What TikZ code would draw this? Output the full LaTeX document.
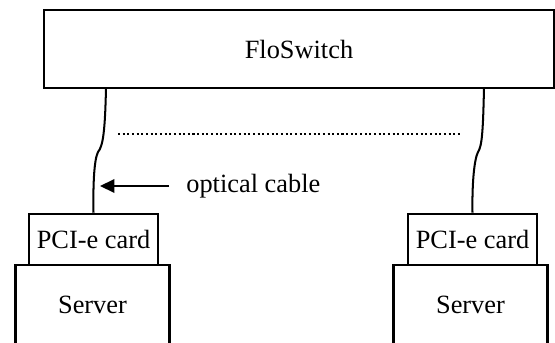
\documentclass[tikz,border=0pt]{standalone}
\usepackage{fontspec}
\setmainfont{Liberation Serif}
\usetikzlibrary{arrows.meta, positioning}

\begin{document}
\begin{tikzpicture}[x=0.02cm, y=-0.02cm,
    box/.style={draw, line width=1.45pt, inner sep=0pt, font=\fontsize{15}{18}\selectfont},
    cable/.style={line width=1.15pt},
    dots/.style={line width=1.15pt, dash pattern=on 1.15pt off 1.5pt}]
      \clip (0,0) rectangle (555,342); % page size
      \node[box, minimum width=10.2cm, minimum height=1.56cm] (sw) at (299,49) {FloSwitch};
      \node[box, minimum width=3.08cm, minimum height=1.6cm] (lsrv) at (92.5,305) {Server};
      \node[box, minimum width=3.08cm, minimum height=1.6cm] (rsrv) at (470.5,305) {Server};
      \node[box, minimum width=2.58cm, minimum height=1.02cm] (lcard) at (93.5,239.5) {PCI-e card};
      \node[box, minimum width=2.58cm, minimum height=1.02cm] (rcard) at (472.5,239.5) {PCI-e card};
      % cables
      \coordinate (lsw) at (106,88);
      \coordinate (rsw) at (484,88);
      \draw[cable] (lsw) .. controls (105,132) and (103,146) .. (98,152) .. controls (94,160) and (93,185) .. (lcard.north);
      \draw[cable] (rsw) .. controls (483,132) and (482,146) .. (478,152) .. controls (474,160) and (472,185) .. (rcard.north);
      \coordinate (dl) at (118,134);
      \coordinate (dr) at (462,134);
      \draw[dots] (dl) -- (dr);
      % label
      \node[anchor=west, inner sep=0.34cm, font=\fontsize{15}{18}\selectfont] (lbl) at (169,186) {optical cable};
      \coordinate (tip) at (100,186);
      \draw[cable, -{Triangle[length=0.29cm, width=0.27cm]}] (lbl.west) -- (tip);
\end{tikzpicture}
\end{document}
